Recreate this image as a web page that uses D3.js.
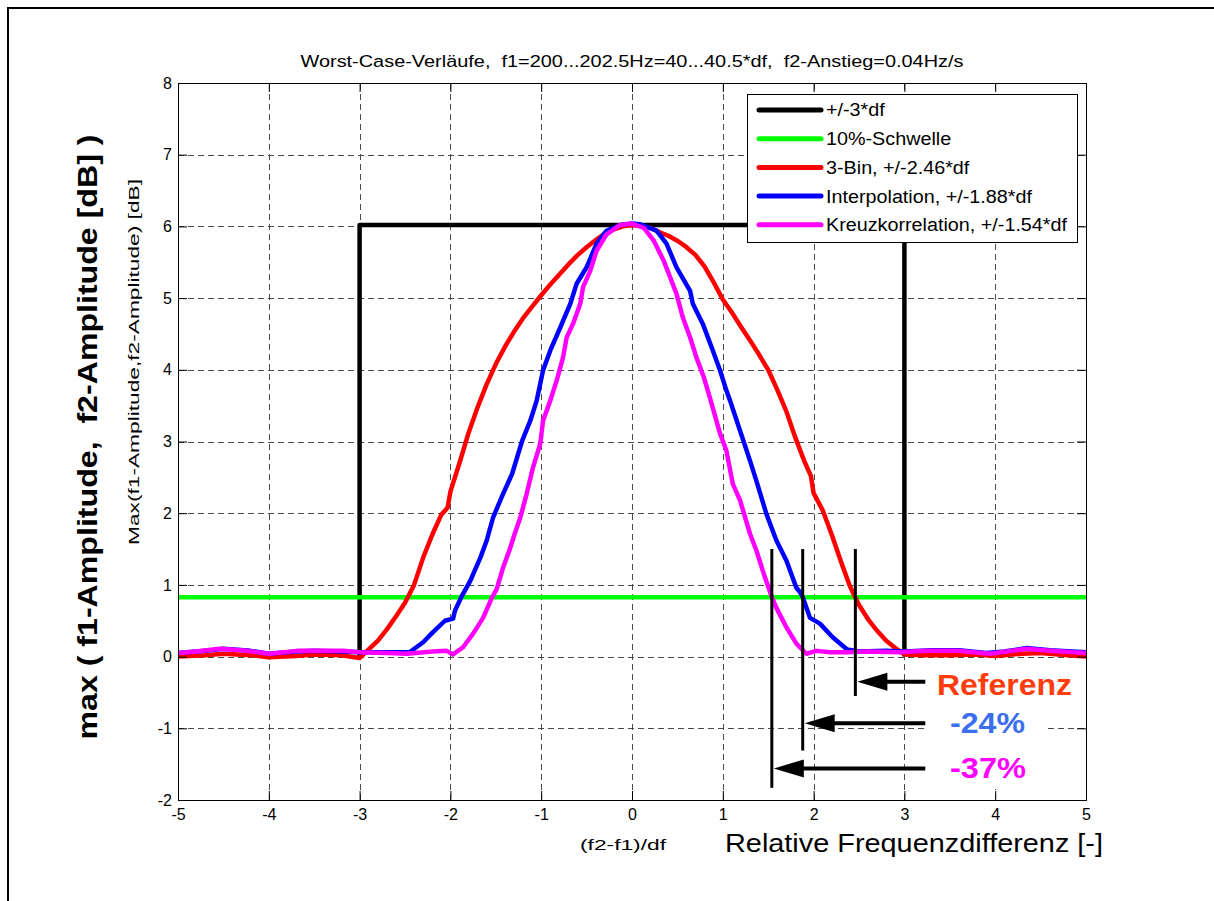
<!DOCTYPE html>
<html>
<head>
<meta charset="utf-8">
<script src="https://cdn.jsdelivr.net/npm/d3@7"></script>
<style>
  html, body { margin: 0; padding: 0; background: #fff; }
  svg { display: block; }
  text { font-family: "Liberation Sans", Arial, Helvetica, sans-serif; }
</style>
</head>
<body>
<svg id="chart" width="1214" height="901"></svg>
<script>
// ---- data ----------------------------------------------------------------
const xTicks = [-5, -4, -3, -2, -1, 0, 1, 2, 3, 4, 5];
const yTicks = [-2, -1, 0, 1, 2, 3, 4, 5, 6, 7, 8];

// +/-3*df reference window
const windowX = [-3, -3, 3, 3];
const windowY = [0, 6.02, 6.02, 0];

// 10% threshold (dB)
const thresholdY = 0.828;

// 3-Bin
const redX = [-5, -4.7, -4.5, -4.2, -4, -3.7, -3.5, -3.2, -3, -2.9, -2.8, -2.7, -2.6, -2.5, -2.4, -2.3, -2.2, -2.1, -2.03, -2,
  -1.9, -1.8, -1.7, -1.6, -1.5, -1.4, -1.3, -1.2, -1.1, -1, -0.9, -0.8, -0.7, -0.6, -0.5, -0.4, -0.3, -0.2, -0.1, 0,
  0.1, 0.2, 0.3, 0.4, 0.5, 0.6, 0.7, 0.8, 0.9, 1, 1.1, 1.2, 1.3, 1.4, 1.5, 1.6, 1.7, 1.8, 1.9, 1.97, 2,
  2.1, 2.2, 2.3, 2.4, 2.5, 2.6, 2.7, 2.8, 2.9, 3, 3.2, 3.5, 3.8, 4, 4.3, 4.5, 4.7, 5];
const redY = [0, 0.02, 0.04, 0.02, -0.01, 0.01, 0.03, 0.02, -0.02, 0.1, 0.22, 0.38, 0.56, 0.75, 1.0, 1.38, 1.7, 1.98, 2.08, 2.3,
  2.7, 3.12, 3.48, 3.8, 4.08, 4.32, 4.53, 4.72, 4.88, 5.04, 5.19, 5.33, 5.47, 5.6, 5.71, 5.81, 5.9, 5.96, 6.0, 6.02,
  6.01, 5.98, 5.92, 5.87, 5.8, 5.71, 5.6, 5.44, 5.22, 4.98, 4.8, 4.6, 4.41, 4.21, 4.0, 3.72, 3.42, 3.05, 2.72, 2.52, 2.28,
  2.04, 1.7, 1.33, 0.98, 0.72, 0.52, 0.36, 0.22, 0.12, 0.03, 0.02, 0.02, 0.03, 0.01, 0.04, 0.05, 0.03, 0];

// Interpolation
const blueX = [-5, -4.7, -4.5, -4.2, -4, -3.7, -3.5, -3.2, -3, -2.7, -2.45, -2.3, -2.2, -2.06, -1.97, -1.95, -1.88, -1.78,
  -1.67, -1.6, -1.53, -1.42, -1.32, -1.21, -1.12, -1.05, -0.98, -0.9, -0.79, -0.68, -0.61, -0.5, -0.39, -0.28, -0.13, 0,
  0.09, 0.27, 0.38, 0.49, 0.64, 0.67, 0.78, 0.89, 0.97, 1.04, 1.08, 1.19, 1.3, 1.37, 1.48, 1.59, 1.7, 1.81, 1.85, 1.88,
  1.96, 2.07, 2.21, 2.37, 2.5, 2.8, 3, 3.3, 3.6, 3.9, 4.1, 4.35, 4.6, 4.85, 5];
const blueY = [0.05, 0.08, 0.11, 0.08, 0.04, 0.07, 0.08, 0.07, 0.06, 0.06, 0.06, 0.2, 0.33, 0.5, 0.53, 0.64, 0.83, 1.06,
  1.38, 1.62, 1.94, 2.27, 2.55, 3.01, 3.29, 3.57, 3.99, 4.27, 4.59, 4.92, 5.2, 5.43, 5.76, 5.94, 6.02, 6.04,
  6.03, 5.94, 5.76, 5.43, 5.1, 4.92, 4.64, 4.27, 3.99, 3.71, 3.57, 3.15, 2.73, 2.45, 1.99, 1.62, 1.34, 0.96, 0.9, 0.83,
  0.54, 0.46, 0.27, 0.1, 0.07, 0.08, 0.07, 0.09, 0.09, 0.05, 0.07, 0.12, 0.09, 0.07, 0.06];

// Kreuzkorrelation
const magentaX = [-5, -4.8, -4.54, -4.3, -3.99, -3.69, -3.18, -3, -2.7, -2.48, -2.2, -2.04, -1.97, -1.86, -1.75, -1.64,
  -1.54, -1.49, -1.42, -1.34, -1.29, -1.23, -1.16, -1.09, -1.01, -0.98, -0.9, -0.83, -0.76, -0.72, -0.65, -0.57, -0.54,
  -0.46, -0.39, -0.28, -0.13, 0, 0.13, 0.24, 0.35, 0.42, 0.49, 0.56, 0.64, 0.71, 0.79, 0.86, 0.97, 1.04, 1.11, 1.19,
  1.3, 1.37, 1.45, 1.54, 1.59, 1.7, 1.81, 1.92, 2.03, 2.18, 2.37, 2.6, 2.95, 3.25, 3.58, 3.94, 4.35, 4.6, 4.86, 5];
const magentaY = [0.05, 0.07, 0.11, 0.09, 0.04, 0.08, 0.08, 0.06, 0.05, 0.04, 0.07, 0.08, 0.03, 0.13, 0.32, 0.54,
  0.83, 0.94, 1.24, 1.52, 1.72, 1.94, 2.27, 2.64, 2.97, 3.29, 3.57, 3.85, 4.17, 4.45, 4.64, 4.92, 5.15,
  5.38, 5.66, 5.89, 6.02, 6.04, 5.98, 5.8, 5.52, 5.29, 5.06, 4.73, 4.45, 4.17, 3.9, 3.6, 3.11, 2.87, 2.41, 2.18,
  1.71, 1.48, 1.16, 0.83, 0.68, 0.41, 0.18, 0.04, 0.08, 0.06, 0.06, 0.07, 0.06, 0.08, 0.08, 0.04, 0.11, 0.08, 0.06, 0.05];

const legendLabels = ["+/-3*df", "10%-Schwelle", "3-Bin, +/-2.46*df", "Interpolation, +/-1.88*df", "Kreuzkorrelation, +/-1.54*df"];
const seriesColors = ["#000000", "#00ff00", "#ff0000", "#0000ff", "#ff00ff"];

// half-width markers at the 10% threshold, with their comparison arrows
const markerX = [2.46, 1.88, 1.54];
const markerTop = 1.5;
const markerBottom = [-0.55, -1.31, -1.83];
const arrowY = [-0.35, -0.93, -1.56];
const arrowTailX = 3.23;
const markerLabels = ["Referenz", "-24%", "-37%"];
const markerColors = ["#ff3c0a", "#3b6ef0", "#ff00ff"];

// ---- layout --------------------------------------------------------------
const svg = d3.select("#chart");
const x = d3.scaleLinear().domain([-5, 5]).range([178, 1086]);
const y = d3.scaleLinear().domain([-2, 8]).range([800, 83]);
const FONT = '"Liberation Sans", Arial, Helvetica, sans-serif';

// figure frame
svg.append("rect").attr("x", 8).attr("y", 8).attr("width", 1300).attr("height", 1000)
  .attr("fill", "#fff").attr("stroke", "#000").attr("stroke-width", 2);

// plot background
svg.append("rect").attr("x", x(-5)).attr("y", y(8)).attr("width", x(5) - x(-5)).attr("height", y(-2) - y(8))
  .attr("fill", "#fff");

svg.append("defs").append("clipPath").attr("id", "plotClip").append("rect")
  .attr("x", x(-5)).attr("y", y(8)).attr("width", x(5) - x(-5)).attr("height", y(-2) - y(8));

// dashed grid
const grid = svg.append("g").attr("stroke", "#4a4a4a").attr("stroke-width", 1).attr("stroke-dasharray", "6,4");
grid.selectAll("line.gx").data(xTicks.slice(1, -1)).join("line")
  .attr("x1", d => Math.round(x(d)) + 0.5).attr("x2", d => Math.round(x(d)) + 0.5)
  .attr("y1", y(-2)).attr("y2", y(8));
grid.selectAll("line.gy").data(yTicks.slice(1, -1)).join("line")
  .attr("y1", d => Math.round(y(d)) + 0.5).attr("y2", d => Math.round(y(d)) + 0.5)
  .attr("x1", x(-5)).attr("x2", x(5));

// curves
const line = d3.line().x(d => x(d[0])).y(d => y(d[1]));
const zip = (xs, ys) => xs.map((v, i) => [v, ys[i]]);
const curves = svg.append("g").attr("clip-path", "url(#plotClip)");
const series = [
  zip(windowX, windowY),
  [[-5, thresholdY], [5, thresholdY]],
  zip(redX, redY),
  zip(blueX, blueY),
  zip(magentaX, magentaY)
];
series.forEach((pts, i) => {
  curves.append("path").datum(pts).attr("d", line)
    .attr("fill", "none").attr("stroke", seriesColors[i])
    .attr("stroke-width", 4.5).attr("stroke-linejoin", "round");
});

// axes: ticks inside on all four sides
const tickFont = g => g.selectAll("text").attr("font-size", 16).attr("font-family", FONT).attr("fill", "#000");
const noDomain = g => g.select(".domain").remove();
svg.append("g").attr("transform", `translate(0,${y(-2)})`)
  .call(d3.axisBottom(x).tickValues(xTicks).tickSize(-9).tickPadding(9).tickFormat(d3.format("d")))
  .call(noDomain).call(tickFont);
svg.append("g").attr("transform", `translate(${x(-5)},0)`)
  .call(d3.axisLeft(y).tickValues(yTicks).tickSize(-9).tickPadding(6).tickFormat(d3.format("d")))
  .call(noDomain).call(tickFont);
svg.append("g").attr("transform", `translate(0,${y(8)})`)
  .call(d3.axisTop(x).tickValues(xTicks).tickSize(-9).tickFormat(""))
  .call(noDomain);
svg.append("g").attr("transform", `translate(${x(5)},0)`)
  .call(d3.axisRight(y).tickValues(yTicks).tickSize(-9).tickFormat(""))
  .call(noDomain);
svg.selectAll(".tick line").attr("stroke", "#000");
svg.selectAll(".tick text").text(function () { return this.textContent.replace("−", "-"); });

svg.append("rect").attr("x", x(-5) + 0.5).attr("y", y(8) + 0.5)
  .attr("width", x(5) - x(-5)).attr("height", y(-2) - y(8))
  .attr("fill", "none").attr("stroke", "#000").attr("stroke-width", 1);

// titles and axis labels
const fit = (sel, w) => sel.attr("textLength", w).attr("lengthAdjust", "spacingAndGlyphs");

svg.append("text").attr("x", 632).attr("y", 67).attr("text-anchor", "middle").attr("font-size", 16)
  .text("Worst-Case-Verläufe,  f1=200...202.5Hz=40...40.5*df,  f2-Anstieg=0.04Hz/s")
  .attr("xml:space", "preserve").call(fit, 663);

svg.append("text").attr("x", 623).attr("y", 850).attr("text-anchor", "middle").attr("font-size", 14)
  .text("(f2-f1)/df").call(fit, 86);

svg.append("text").attr("x", 914).attr("y", 852).attr("text-anchor", "middle").attr("font-size", 25)
  .text("Relative Frequenzdifferenz [-]").call(fit, 378);

svg.append("text").attr("transform", "translate(139,362) rotate(-90)").attr("text-anchor", "middle")
  .attr("font-size", 15.5).text("Max(f1-Amplitude,f2-Amplitude) [dB]").call(fit, 366);

svg.append("text").attr("transform", "translate(97,437) rotate(-90)").attr("text-anchor", "middle")
  .attr("font-size", 28).attr("font-weight", "bold")
  .attr("xml:space", "preserve")
  .text("max ( f1-Amplitude,  f2-Amplitude [dB] )").call(fit, 605);

// legend
const lg = svg.append("g");
lg.append("rect").attr("x", 747.5).attr("y", 94.5).attr("width", 330).attr("height", 148)
  .attr("fill", "#fff").attr("stroke", "#000").attr("stroke-width", 1);
const rowY = i => 110 + i * 28.7;
legendLabels.forEach((lab, i) => {
  lg.append("line").attr("x1", 759).attr("x2", 821).attr("y1", rowY(i)).attr("y2", rowY(i))
    .attr("stroke", seriesColors[i]).attr("stroke-width", 5).attr("stroke-linecap", "round");
  lg.append("text").attr("class", "lgtext").attr("x", 826).attr("y", rowY(i)).attr("dy", "0.36em")
    .attr("font-size", 18).text(lab);
});
const lgTexts = lg.selectAll("text.lgtext");
const longest = d3.max(lgTexts.nodes(), n => n.getComputedTextLength());
const squeeze = 241 / longest;
lgTexts.each(function () { d3.select(this).call(fit, this.getComputedTextLength() * squeeze); });

// markers and arrows
const ann = svg.append("g");
markerX.forEach((mx, i) => {
  ann.append("line").attr("x1", x(mx)).attr("x2", x(mx)).attr("y1", y(markerTop)).attr("y2", y(markerBottom[i]))
    .attr("stroke", "#000").attr("stroke-width", 3);
  const tip = x(mx) + 2, ay = y(arrowY[i]);
  ann.append("line").attr("x1", x(arrowTailX)).attr("x2", tip + 26).attr("y1", ay).attr("y2", ay)
    .attr("stroke", "#000").attr("stroke-width", 4);
  ann.append("path").attr("d", `M${tip},${ay}L${tip + 30},${ay - 9}L${tip + 30},${ay + 9}Z`).attr("fill", "#000");
});

// label boxes
svg.append("rect").attr("x", 926).attr("y", 661).attr("width", 122).attr("height", 128).attr("fill", "#fff");
svg.append("rect").attr("x", 1046).attr("y", 667).attr("width", 32).attr("height", 34).attr("fill", "#fff");

const labelX = [937, 950, 950];
const labelBase = [695, 733, 778];
const labelW = [135, 75, 76];
markerLabels.forEach((t, i) => {
  svg.append("text").attr("x", labelX[i]).attr("y", labelBase[i]).attr("font-size", 30).attr("font-weight", "bold")
    .attr("fill", markerColors[i]).text(t).call(fit, labelW[i]);
});
</script>
</body>
</html>
